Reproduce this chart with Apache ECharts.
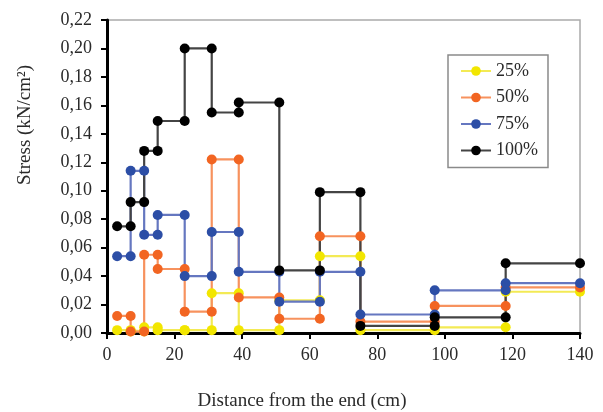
<!DOCTYPE html>
<html lang="en">
<head>
    <meta charset="utf-8">
    <title>Stress vs distance</title>
    <style>
        html, body { margin: 0; padding: 0; background: #fff; }
        #main { width: 603px; height: 412px; }
    </style>
</head>
<body>
<div id="main"></div>

<script src="https://cdn.jsdelivr.net/npm/echarts@6/dist/echarts.min.js"></script>
<script type="text/javascript">
    // step boundaries along the bar (cm)
    var xEdges = [3, 7, 11, 15, 23, 31, 39, 51, 63, 75, 97, 118, 140];

    // stress on each step (kN/cm2), one value per interval between edges
    var s25 = [0.002, 0.001, 0.004, 0.002, 0.002, 0.028, 0.002, 0.023, 0.054, 0.002, 0.004, 0.029];
    var s50 = [0.012, 0.001, 0.055, 0.045, 0.015, 0.122, 0.025, 0.010, 0.068, 0.008, 0.019, 0.032];
    var s75 = [0.054, 0.114, 0.069, 0.083, 0.040, 0.071, 0.043, 0.022, 0.043, 0.013, 0.030, 0.035];
    var s100 = [0.075, 0.092, 0.128, 0.149, 0.200, 0.155, 0.162, 0.044, 0.099, 0.005, 0.011, 0.049];

    var names = ['25%', '50%', '75%', '100%'];

    // each step gives a point at both ends
    function steps(vals) {
        var out = [];
        for (var i = 0; i < vals.length; i++) {
            out.push([xEdges[i], vals[i]]);
            out.push([xEdges[i + 1], vals[i]]);
        }
        return out;
    }

    function makeSeries(name, vals, dot, line) {
        return {
            name: name,
            type: 'line',
            data: steps(vals),
            symbol: 'circle',
            symbolSize: 10,
            showAllSymbol: true,
            clip: false,
            itemStyle: {color: dot},
            lineStyle: {color: line, width: 2.2},
            emphasis: {disabled: true}
        };
    }

    var font = '"Liberation Serif", "DejaVu Serif", serif';

    var myChart = echarts.init(document.getElementById('main'));
    myChart.setOption({
        animation: false,
        grid: {
            left: 107, right: 23, top: 20, bottom: 79,
            show: true,
            borderColor: '#aaa',
            borderWidth: 1.5
        },
        legend: {
            orient: 'vertical',
            left: 448,
            top: 55,
            data: names,
            itemWidth: 30,
            itemHeight: 12,
            itemGap: 8.5,
            padding: [7, 10, 8, 12],
            borderColor: '#8a8a8a',
            borderWidth: 1.5,
            textStyle: {fontFamily: font, fontSize: 18, color: '#2a2a2a', lineHeight: 18}
        },
        xAxis: {
            type: 'value',
            min: 0,
            max: 140,
            interval: 20,
            splitLine: {show: false},
            axisLine: {lineStyle: {color: '#000', width: 3}},
            axisTick: {show: true, inside: false, length: 6, lineStyle: {color: '#000', width: 2}},
            axisLabel: {fontFamily: font, fontSize: 18, color: '#2a2a2a', margin: 13}
        },
        yAxis: {
            type: 'value',
            min: 0,
            max: 0.22,
            interval: 0.02,
            splitLine: {show: false},
            axisLine: {show: true, lineStyle: {color: '#000', width: 3}},
            axisTick: {show: true, inside: false, length: 6, lineStyle: {color: '#000', width: 2}},
            axisLabel: {
                fontFamily: font, fontSize: 18, color: '#2a2a2a', margin: 15,
                formatter: function (v) { return v.toFixed(2).replace('.', ','); }
            }
        },
        graphic: [
            {
                type: 'text',
                x: 25, y: 125,
                rotation: Math.PI / 2,
                style: {
                    text: 'Stress (kN/cm²)',
                    font: '19px ' + font,
                    fill: '#2a2a2a',
                    align: 'center',
                    verticalAlign: 'middle'
                }
            },
            {
                type: 'text',
                x: 302, y: 401,
                style: {
                    text: 'Distance from the end (cm)',
                    font: '19px ' + font,
                    fill: '#2a2a2a',
                    align: 'center',
                    verticalAlign: 'middle'
                }
            }
        ],
        series: [
            makeSeries(names[0], s25, '#f2e600', '#f3ea55'),
            makeSeries(names[1], s50, '#f26522', '#f7925e'),
            makeSeries(names[2], s75, '#2c4ea6', '#6577c0'),
            makeSeries(names[3], s100, '#000000', '#444444')
        ]
    });
</script>
</body>
</html>
